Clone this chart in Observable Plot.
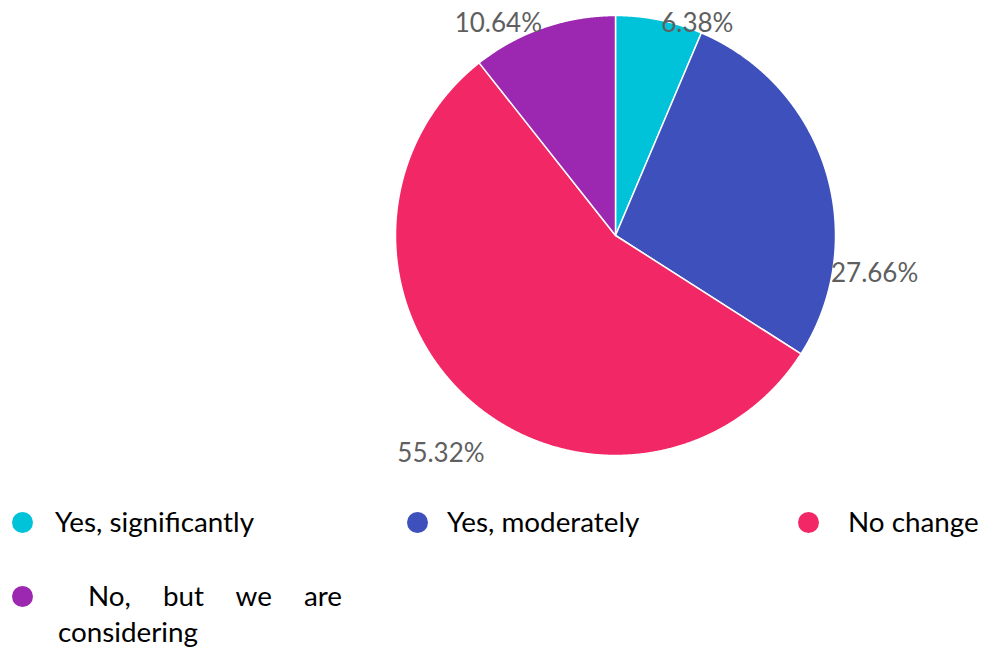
<!DOCTYPE html>
<html><head><meta charset="utf-8">
<script src="https://cdn.jsdelivr.net/npm/d3@7"></script>
<script src="https://cdn.jsdelivr.net/npm/@observablehq/plot@0.6"></script>
<style>
body{margin:0;background:#fff;font-family:Lato,"Open Sans",sans-serif;}
#wrap{position:relative;width:981px;height:649px;overflow:hidden;}
#wrap svg{position:absolute;left:0;top:0;}
.sw{position:absolute;width:21px;height:21px;border-radius:50%;}
.lab{position:absolute;font-size:27.8px;line-height:36px;color:#000;white-space:nowrap;}
.lab.wrapj{white-space:normal;text-align:justify;text-indent:30px;}
</style></head><body><div id="wrap"></div>
<script>
// ---- data ----
const categories = ["Yes, significantly", "Yes, moderately", "No change", "No, but we are considering"];
const shares = [6.38, 27.66, 55.32, 10.64];
const labels = ["6.38%", "27.66%", "55.32%", "10.64%"];
const colors = ["#00c3da", "#3e50bc", "#f22866", "#9c27b0"];

// ---- geometry from data ----
const rows = categories.map((c, i) => ({cat: c, share: shares[i], label: labels[i]}));
const arcs = d3.pie().sort(null).value(d => d.share)(rows);
const pts = [];
for (const a of arcs) {
  pts.push({cat: a.data.cat, x: 0, y: 0});
  const n = Math.max(8, Math.ceil((a.endAngle - a.startAngle) / 0.004));
  for (let k = 0; k <= n; k++) {
    const t = a.startAngle + (a.endAngle - a.startAngle) * k / n;
    pts.push({cat: a.data.cat, x: Math.sin(t), y: Math.cos(t)});
  }
  pts.push({cat: a.data.cat, x: 0, y: 0});
}
const mids = arcs.map(a => {
  const m = (a.startAngle + a.endAngle) / 2;
  return {cat: a.data.cat, label: a.data.label, x: Math.sin(m), y: Math.cos(m)};
});
// label nudges in pixels from the slice's outer mid point
const nudge = {
  "Yes, significantly": [38, 4],
  "Yes, moderately": [49, 103],
  "No change": [-27, 55],
  "No, but we are considering": [-45, -4]
};

const chart = Plot.plot({
  width: 981, height: 470,
  marginLeft: 395, marginRight: 146, marginTop: 15, marginBottom: 15,
  x: {domain: [-1, 1], axis: null},
  y: {domain: [-1, 1], axis: null},
  color: {domain: categories, range: colors},
  style: {background: "transparent"},
  marks: [
    Plot.line(pts, {x: "x", y: "y", z: "cat", fill: "cat", stroke: "white", strokeWidth: 1.5, strokeLinejoin: "round"}),
    ...mids.map(m => Plot.text([m], {
      x: "x", y: "y", text: "label",
      dx: nudge[m.cat][0], dy: nudge[m.cat][1],
      textAnchor: "middle", lineAnchor: "middle",
      fill: "#5f5f5f", fontSize: 26, fontFamily: "Lato, 'Open Sans', sans-serif"
    }))
  ]
});
const wrap = document.getElementById("wrap");
wrap.appendChild(chart);

// ---- legend (HTML, colors from the Plot color scale) ----
const cs = chart.scale("color");
const legendPos = [
  {sx: 22, sy: 522, tx: 55, ty: 522},
  {sx: 417, sy: 522, tx: 447, ty: 522},
  {sx: 808, sy: 522, tx: 848, ty: 522},
  {sx: 22, sy: 596, tx: 58, ty: 596, w: 284}
];
categories.forEach((c, i) => {
  const p = legendPos[i];
  const sw = document.createElement("div");
  sw.className = "sw";
  sw.style.background = cs.apply(c);
  sw.style.left = (p.sx - 10.5) + "px";
  sw.style.top = (p.sy - 10.5) + "px";
  wrap.appendChild(sw);
  const t = document.createElement("div");
  t.className = "lab" + (p.w ? " wrapj" : "");
  t.textContent = c;
  t.style.left = p.tx + "px";
  t.style.top = (p.ty - 18) + "px";
  if (p.w) t.style.width = p.w + "px";
  wrap.appendChild(t);
});
</script></body></html>
